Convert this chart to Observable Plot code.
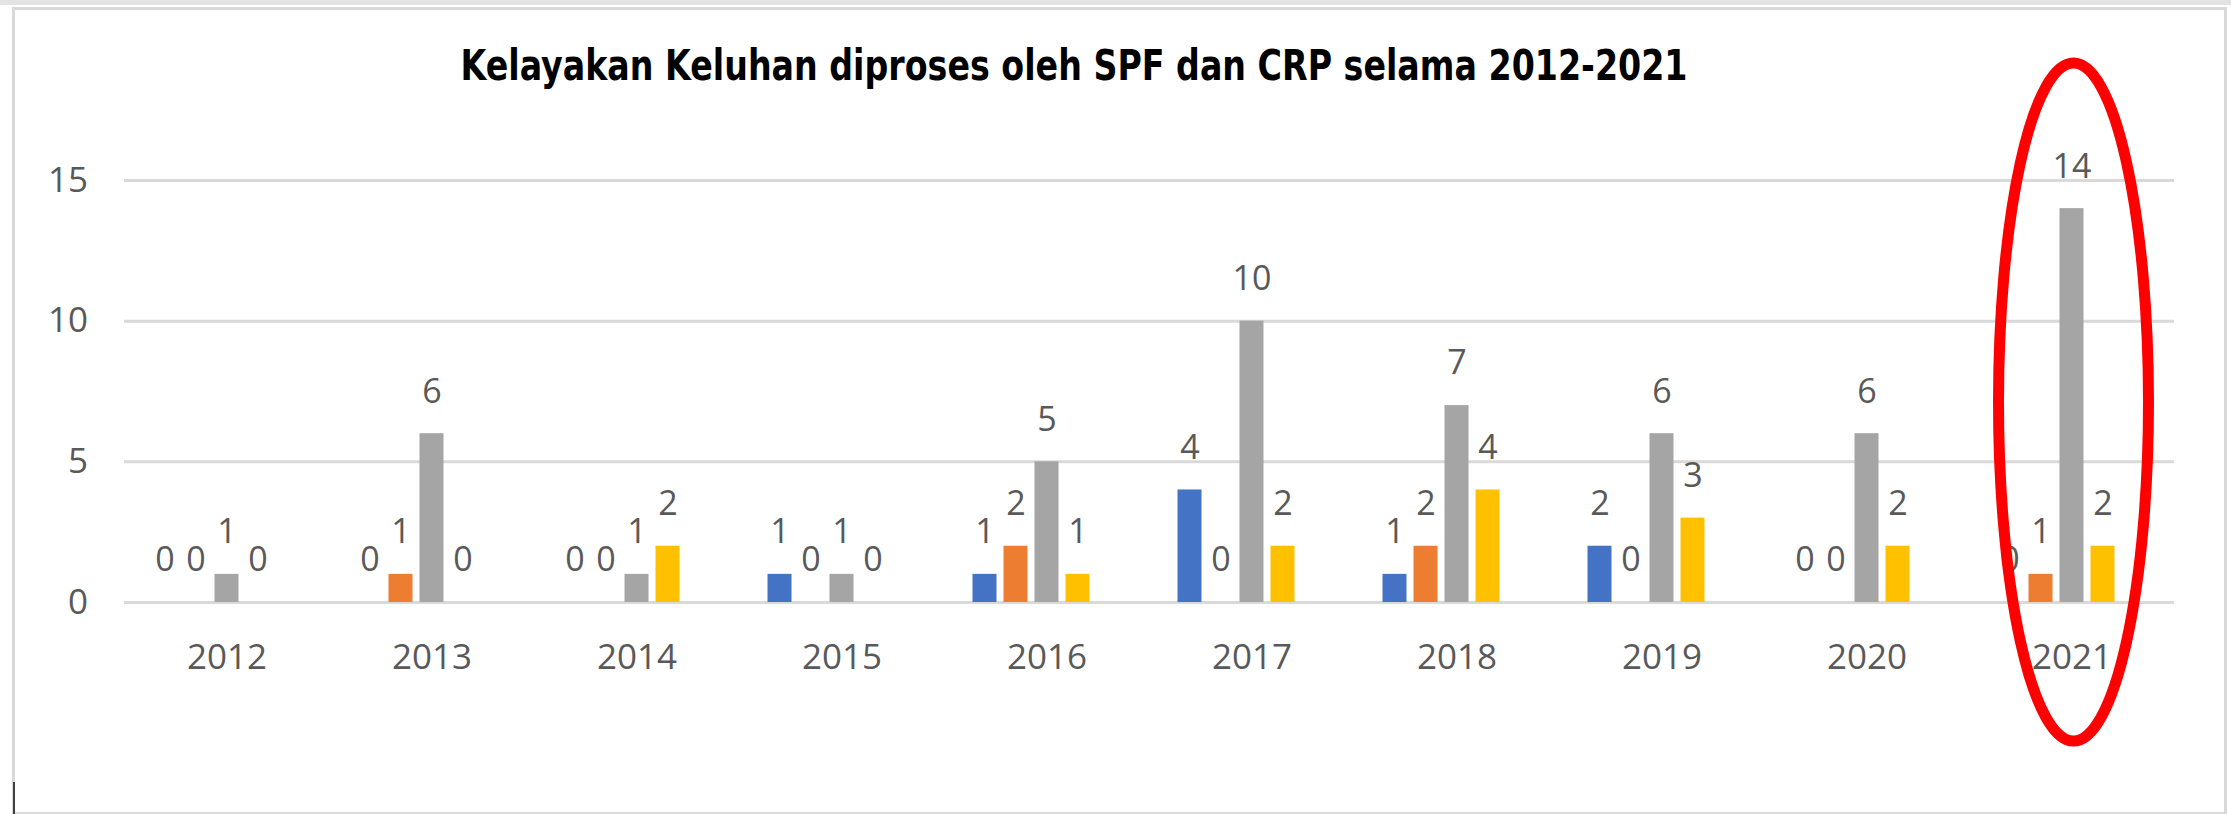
<!DOCTYPE html>
<html>
<head>
<meta charset="utf-8">
<script src="https://cdn.jsdelivr.net/npm/d3@7"></script>
<script src="https://cdn.jsdelivr.net/npm/@observablehq/plot@0.6"></script>
<style>
  html, body { margin: 0; padding: 0; background: #fff; }
  #wrap { position: relative; width: 2231px; height: 814px; overflow: hidden; background: #fff; }
  #topband { position: absolute; left: 0; top: 0; width: 2231px; height: 5px; background: #e3e3e3; }
  #frame { position: absolute; left: 12px; top: 7px; width: 2215px; height: 808px; box-sizing: border-box; border: 3px solid #d9d9d9; }
  #cursor { position: absolute; left: 13px; top: 782px; width: 2px; height: 32px; background: #404040; }
  #chart { position: absolute; left: 0; top: 0; }
  #title { position: absolute; top: 45px; left: 1073.5px; white-space: nowrap;
           font-family: "DejaVu Sans", Verdana, sans-serif; font-weight: bold; font-size: 42px;
           line-height: 42px; color: #000; transform-origin: center top; }
</style>
</head>
<body>
<div id="wrap">
  <div id="topband"></div>
  <div id="frame"></div>
  <div id="chart"></div>
  <div id="title">Kelayakan Keluhan diproses oleh SPF dan CRP selama 2012-2021</div>
  <div id="cursor"></div>
</div>
<script>
// ---- data ----
const years = ["2012", "2013", "2014", "2015", "2016", "2017", "2018", "2019", "2020", "2021"];
const seriesNames = ["Seri 1", "Seri 2", "Seri 3", "Seri 4"];
const seri1 = [0, 0, 0, 1, 1, 4, 1, 2, 0, 0];
const seri2 = [0, 1, 0, 0, 2, 0, 2, 0, 0, 1];
const seri3 = [1, 6, 1, 1, 5, 10, 7, 6, 6, 14];
const seri4 = [0, 0, 2, 0, 1, 2, 4, 3, 2, 2];
const yTicks = [0, 5, 10, 15];
const seriesColors = ["#4472C4", "#ED7D31", "#A5A5A5", "#FFC000"];
const emptySlot = " ";
const highlightYear = "2021";

const seriesValues = [seri1, seri2, seri3, seri4];
const rows = years.flatMap((yr, i) =>
  seriesValues.map((vals, j) => ({ year: yr, series: seriesNames[j], value: vals[i] }))
);

const chart = Plot.plot({
  width: 2231,
  height: 814,
  marginTop: 180,
  marginBottom: 212,
  marginLeft: 119.5,
  marginRight: 52,
  style: { fontFamily: "'Open Sans', sans-serif", fontSize: "35px", color: "#595959", background: "transparent" },
  facet: { data: rows, x: "year" },
  fx: { domain: years, padding: 0, label: null, tickSize: 0, tickPadding: 42 },
  x: { domain: [...seriesNames, emptySlot], paddingInner: 0.236, paddingOuter: 0.9, axis: null },
  y: { domain: [0, 15], ticks: yTicks, tickSize: 0, tickPadding: 36.5, label: null },
  color: { domain: seriesNames, range: seriesColors },
  marks: [
    Plot.ruleY(yTicks, { stroke: "#d9d9d9", strokeWidth: 3 }),
    Plot.barY(rows, { x: "series", y: "value", fill: "series" }),
    Plot.text(rows, { x: "series", y: "value", text: d => String(d.value), dy: -42, fill: "#595959", fontSize: 34 })
  ]
});
document.getElementById("chart").appendChild(chart);

// red ellipse annotation around the highlighted year
const svg = chart.tagName.toLowerCase() === "svg" ? chart : chart.querySelector("svg");
const fxS = chart.scale("fx");
const yS = chart.scale("y");
const cx = fxS.apply(highlightYear) + fxS.bandwidth / 2 + 2;
const cy = yS.apply(7) - 3;
d3.select(svg).append("ellipse")
  .attr("cx", cx).attr("cy", cy)
  .attr("rx", 75).attr("ry", 339)
  .attr("fill", "none").attr("stroke", "#ff0000").attr("stroke-width", 11);

// fit title width to the reference
const title = document.getElementById("title");
const w = title.getBoundingClientRect().width;
const k = 1227 / w;
title.style.transform = `translateX(-50%) scaleX(${k})`;
</script>
</body>
</html>
